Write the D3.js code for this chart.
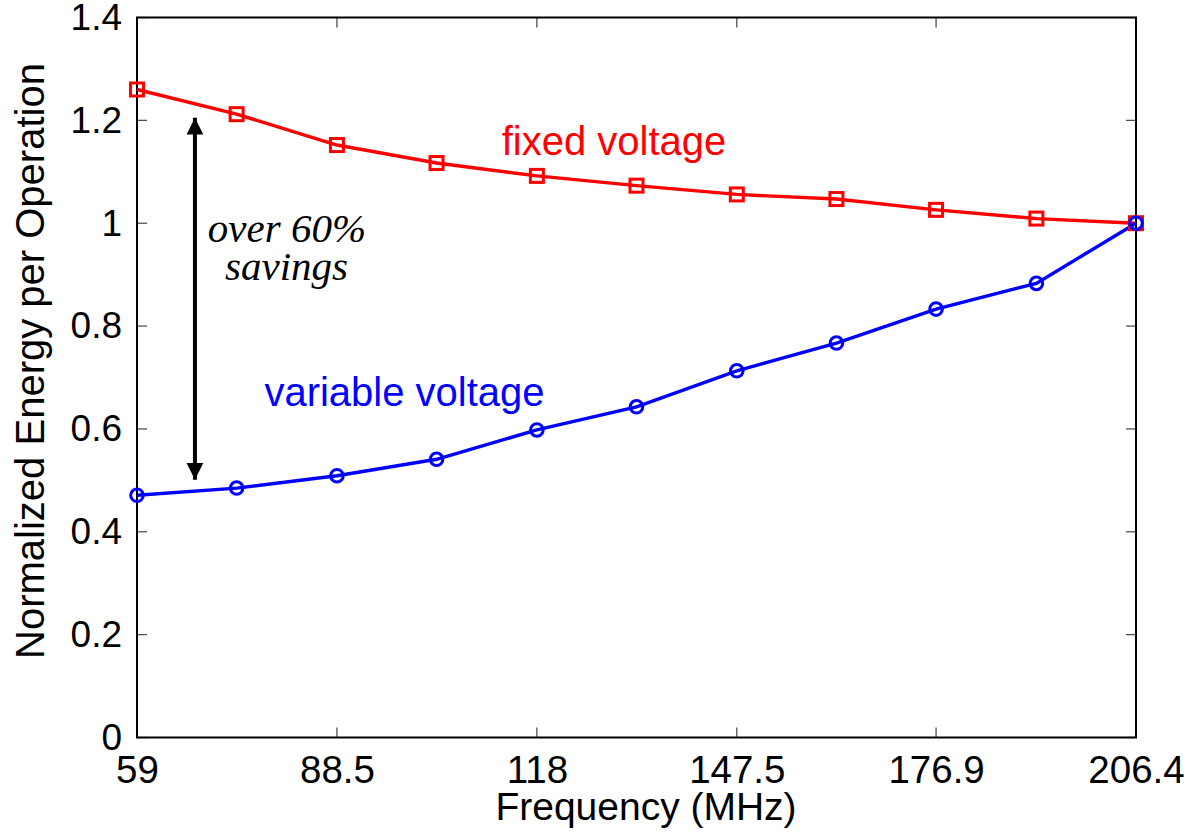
<!DOCTYPE html>
<html><head><meta charset="utf-8">
<script src="https://cdn.jsdelivr.net/npm/d3@7"></script>
<style>body{margin:0;background:#fff}svg{display:block}</style>
</head><body>
<svg id="chart" width="1202" height="839"></svg>
<script>
const frequencies = [59, 73.7, 88.5, 103.2, 118, 132.7, 147.5, 162.2, 176.9, 191.7, 206.4];
const fixedVoltage = [1.260, 1.212, 1.152, 1.117, 1.092, 1.073, 1.056, 1.047, 1.026, 1.009, 1.0];
const variableVoltage = [0.471, 0.485, 0.509, 0.541, 0.598, 0.643, 0.713, 0.767, 0.833, 0.883, 1.0];
const xTicks = [59, 88.5, 118, 147.5, 176.9, 206.4];
const yTicks = [0, 0.2, 0.4, 0.6, 0.8, 1, 1.2, 1.4];
const arrowX = 67.55, arrowTop = 1.205, arrowBottom = 0.501;

const svg = d3.select("#chart");
const L = 137, R = 1136, T = 17.5, B = 737.5;
const x = d3.scaleLinear().domain([59, 206.4]).range([L, R]);
const y = d3.scaleLinear().domain([0, 1.4]).range([B, T]);
const font = "'Liberation Sans', Arial, sans-serif";

const defs = svg.append("defs");
defs.append("marker").attr("id","ah").attr("viewBox","0 0 10 10").attr("refX",10).attr("refY",5)
  .attr("markerWidth",4.2).attr("markerHeight",6.5).attr("markerUnits","strokeWidth").attr("orient","auto-start-reverse")
  .append("path").attr("d","M0,0 L10,5 L0,10 Z").attr("fill","#000");

// axes
const gx = svg.append("g").attr("transform",`translate(0,${B})`)
  .call(d3.axisBottom(x).tickValues(xTicks).tickSize(0).tickPadding(18).tickFormat(d=>String(d)));
const gy = svg.append("g").attr("transform",`translate(${L},0)`)
  .call(d3.axisLeft(y).tickValues(yTicks).tickSize(0).tickPadding(15).tickFormat(d=>String(d)));
[gx, gy].forEach(g => {
  g.select(".domain").remove();
  g.selectAll("text").attr("font-family", font).attr("fill","#000");
});
gx.selectAll("text").attr("font-size", 38.5).attr("dy","0.71em");
gy.selectAll("text").attr("font-size", 37);

// inward ticks (bottom/top/left/right)
const tk = svg.append("g").attr("stroke","#444").attr("stroke-width",1.2);
xTicks.forEach(v => {
  tk.append("line").attr("x1",x(v)).attr("x2",x(v)).attr("y1",B).attr("y2",B-10);
  tk.append("line").attr("x1",x(v)).attr("x2",x(v)).attr("y1",T).attr("y2",T+10);
});
yTicks.forEach(v => {
  tk.append("line").attr("x1",L).attr("x2",L+10).attr("y1",y(v)).attr("y2",y(v));
  tk.append("line").attr("x1",R).attr("x2",R-10).attr("y1",y(v)).attr("y2",y(v));
});

// frame
svg.append("rect").attr("x",L).attr("y",T).attr("width",R-L).attr("height",B-T)
  .attr("fill","none").attr("stroke","#000").attr("stroke-width",2);

// axis titles
svg.append("text").attr("x",646).attr("y",820).attr("text-anchor","middle")
  .attr("font-family",font).attr("font-size",39).text("Frequency (MHz)");
svg.append("text").attr("transform",`translate(44,361) rotate(-90)`).attr("text-anchor","middle")
  .attr("font-family",font).attr("font-size",40).text("Normalized Energy per Operation");

// series
const line = d3.line().x((d,i)=>x(frequencies[i])).y(d=>y(d));
svg.append("path").datum(fixedVoltage).attr("d",line).attr("fill","none").attr("stroke","#ff0000").attr("stroke-width",3.4);
svg.append("path").datum(variableVoltage).attr("d",line).attr("fill","none").attr("stroke","#0000ff").attr("stroke-width",3.4);
svg.append("g").selectAll("rect").data(fixedVoltage).join("rect")
  .attr("x",(d,i)=>x(frequencies[i])-6.5).attr("y",d=>y(d)-6.5).attr("width",13).attr("height",13)
  .attr("fill","none").attr("stroke","#ff0000").attr("stroke-width",3);
svg.append("g").selectAll("circle").data(variableVoltage).join("circle")
  .attr("cx",(d,i)=>x(frequencies[i])).attr("cy",d=>y(d)).attr("r",6.3)
  .attr("fill","none").attr("stroke","#0000ff").attr("stroke-width",3);

// annotations
svg.append("text").attr("x",614).attr("y",155).attr("text-anchor","middle").attr("fill","#ff0000")
  .attr("font-family",font).attr("font-size",40).text("fixed voltage");
svg.append("text").attr("x",404.5).attr("y",406).attr("text-anchor","middle").attr("fill","#0000ff")
  .attr("font-family",font).attr("font-size",40).text("variable voltage");
svg.append("line").attr("x1",x(arrowX)).attr("x2",x(arrowX)).attr("y1",y(arrowBottom)).attr("y2",y(arrowTop))
  .attr("stroke","#000").attr("stroke-width",4).attr("marker-start","url(#ah)").attr("marker-end","url(#ah)");
const ft = "'Liberation Serif', 'Times New Roman', serif";
svg.append("text").attr("x",287).attr("y",242).attr("text-anchor","middle").attr("font-style","italic")
  .attr("font-family",ft).attr("font-size",41).text("over 60%");
svg.append("text").attr("x",286.5).attr("y",280).attr("text-anchor","middle").attr("font-style","italic")
  .attr("font-family",ft).attr("font-size",41).text("savings");
</script>
</body></html>
